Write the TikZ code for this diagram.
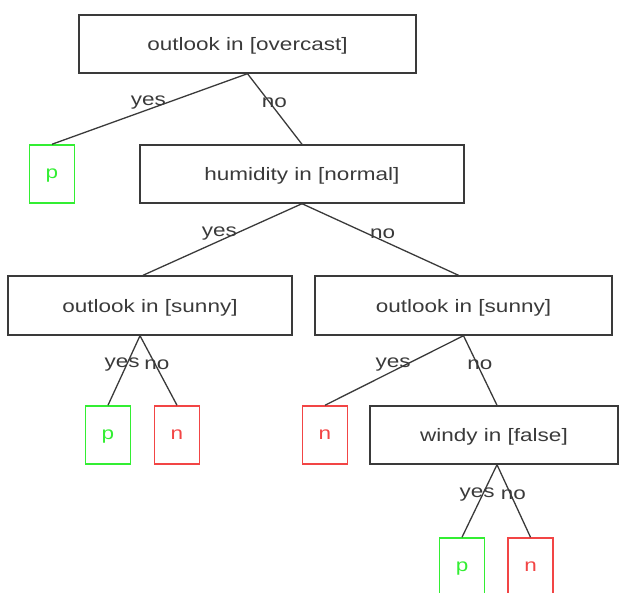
\documentclass[tikz,border=0pt]{standalone}
\usepackage{fontspec}
\usepackage{tikz}
\newfontfamily\treefont{Liberation Sans}[FakeStretch=1.25]
\definecolor{boxgray}{HTML}{3A3A3A}
\definecolor{leafgreen}{HTML}{33EE33}
\definecolor{leafred}{HTML}{F24545}
\tikzset{
  test/.style={draw=boxgray, line width=1.4pt, rectangle, inner sep=0pt,
    minimum height=58pt, text depth=0pt, text=boxgray},
  leafp/.style={draw=leafgreen, line width=1.5pt, rectangle, inner sep=0pt,
    minimum width=45pt, minimum height=58pt, text depth=0pt, text=leafgreen},
  leafn/.style={draw=leafred, line width=1.5pt, rectangle, inner sep=0pt,
    minimum width=45pt, minimum height=58pt, text depth=0pt, text=leafred},
  lbl/.style={inner sep=0pt, text=boxgray, pos=0.4, yshift=-1pt},
}

\begin{document}
\begin{tikzpicture}[x=1pt, y=-1pt, font=\treefont\fontsize{18}{20}\selectfont]
			      \useasboundingbox (0,0) rectangle (620,593);

			      \node (root) [test, minimum width=337pt] at (247.5,44) {outlook in [overcast]};
			      \node (p1) [leafp] at (52,174) {p};
			      \node (hum) [test, minimum width=324pt] at (302,174) {humidity in [normal]};
			      \node (sunnyL) [test, minimum width=284pt, minimum height=59pt] at (150,305.5) {outlook in [sunny]};
			      \node (sunnyR) [test, minimum width=297pt, minimum height=59pt] at (463.5,305.5) {outlook in [sunny]};
			      \node (p2) [leafp] at (108,435) {p};
			      \node (n1) [leafn] at (177,435) {n};
			      \node (n2) [leafn] at (325,435) {n};
			      \node (windy) [test, minimum width=248pt] at (494,435) {windy in [false]};
			      \node (p3) [leafp] at (462,567) {p};
			      \node (n3) [leafn] at (530.5,567) {n};

			      \path [draw=boxgray, line width=1.3pt]
			      (root.south) edge node [lbl, xshift=-21] {yes} (p1.north)
			      (root.south) edge node [lbl, xshift=5] {no} (hum.north)
			      (hum.south) edge node [lbl, xshift=-19] {yes} ([xshift=-7]sunnyL.north)
			      (hum.south) edge node [lbl, xshift=18] {no} ([xshift=-5]sunnyR.north)
			      ([xshift=-10]sunnyL.south) edge node [lbl, xshift=-5] {yes} (p2.north)
			      ([xshift=-10]sunnyL.south) edge node [lbl, xshift=2] {no} (n1.north)
			      (sunnyR.south) edge node [lbl, xshift=-15] {yes} (n2.north)
			      (sunnyR.south) edge node [lbl, xshift=3] {no} ([xshift=3]windy.north)
			      ([xshift=3]windy.south) edge node [lbl, xshift=-6] {yes} (p3.north)
			      ([xshift=3]windy.south) edge node [lbl, xshift=3] {no} (n3.north)
			      ;
		      \end{tikzpicture}
\end{document}
